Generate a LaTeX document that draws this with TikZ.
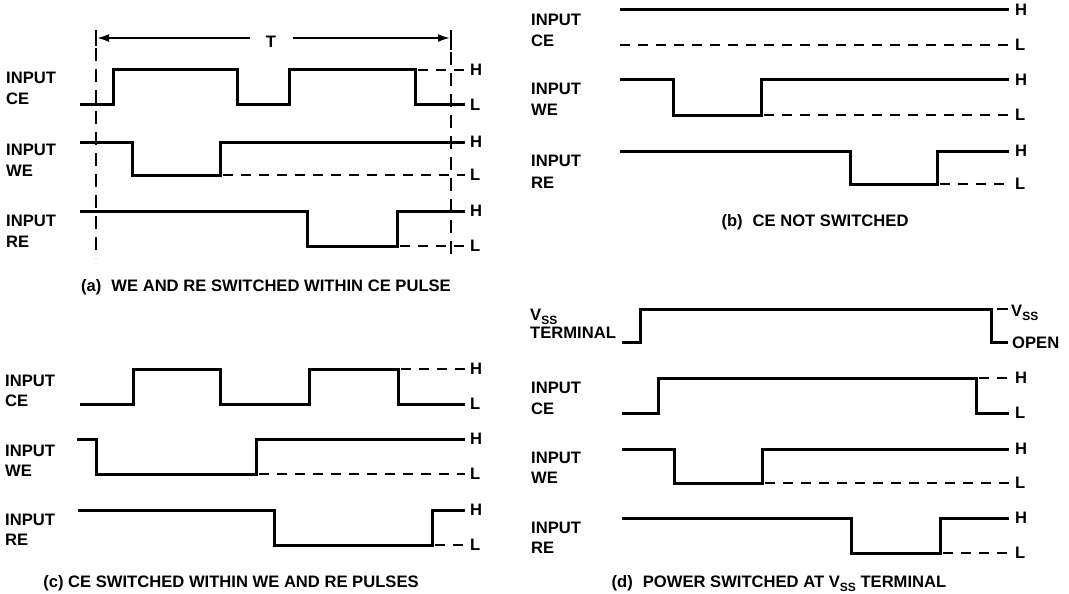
\documentclass[tikz,border=0pt]{standalone}
\usepackage{fontspec}
\setmainfont{Liberation Sans}
\usetikzlibrary{arrows.meta}
\newcommand\myfont{\bfseries\fontsize{16.6}{19}\selectfont}
\newcommand\mysub[1]{\raisebox{-4pt}{\fontsize{12}{12}\selectfont #1}}
\tikzset{
  sig/.style={line width=3pt, line join=miter, line cap=butt},
  lvl/.style={line width=2.2pt, dash pattern=on 10pt off 8pt},
  vdash/.style={line width=2.2pt, dash pattern=on 13pt off 8pt},
  bar/.style={line width=2.4pt},
  tarrow/.style={line width=2pt, -{Latex[length=12pt,width=8pt]}},
  txt/.style={font=\myfont, anchor=base west, inner sep=0pt},
  lab/.style={font=\myfont, anchor=west, inner sep=0pt},
  captext/.style={font=\myfont, anchor=base, inner sep=0pt},
}
\begin{document}
\begin{tikzpicture}[x=1pt,y=-1pt]
\useasboundingbox (0,0) rectangle (1069,594);
\fill[white] (0,0) rectangle (1069,594);

% ===================== panel (a) =====================
\draw[bar] (96,30) -- (96,46);
\draw[vdash] (96,48) -- (96,258);
\draw[bar] (451,30) -- (451,50);
\draw[vdash] (451,52) -- (451,260);
\node[font=\myfont, inner sep=0pt] (Ta) at (271,42) {T};
\coordinate (TaL) at (97,38);
\coordinate (TaR) at (450,38);
\draw[tarrow] (250,38) -- (TaL);
\draw[tarrow] (293,38) -- (TaR);

\draw[sig] (80,105) -- (113,105) -- (113,70) -- (237,70) -- (237,105) -- (289,105) -- (289,70) -- (415,70) -- (415,105) -- (465,105);
\draw[lvl] (418,70) -- (465,70);
\draw[sig] (80,142) -- (132,142) -- (132,175) -- (220,175) -- (220,142) -- (465,142);
\draw[lvl] (223,175) -- (465,175);
\draw[sig] (80,211) -- (307,211) -- (307,246) -- (397,246) -- (397,211) -- (465,211);
\draw[lvl] (400,246) -- (465,246);

\node[lab] (aH1) at (470,70) {H};
\node[lab] (aL1) at (470,105) {L};
\node[lab] (aH2) at (470,142) {H};
\node[lab] (aL2) at (470,175) {L};
\node[lab] (aH3) at (470,211) {H};
\node[lab] (aL3) at (470,246) {L};

\node[txt] (aI1) at (6,84) {INPUT};
\node[txt] (aC1) at (6,105) {CE};
\node[txt] (aI2) at (6,155) {INPUT};
\node[txt] (aC2) at (6,176) {WE};
\node[txt] (aI3) at (6,226) {INPUT};
\node[txt] (aC3) at (6,247) {RE};
\node[captext] (capa) at (266,291) {(a)\hspace{0.6em}WE AND RE SWITCHED WITHIN CE PULSE};

% ===================== panel (c) =====================
\draw[sig] (80,404) -- (133,404) -- (133,369) -- (220,369) -- (220,404) -- (309,404) -- (309,369) -- (398,369) -- (398,404) -- (465,404);
\draw[lvl] (401,369) -- (465,369);
\draw[sig] (77,439) -- (96,439) -- (96,474) -- (256,474) -- (256,439) -- (465,439);
\draw[lvl] (259,474) -- (465,474);
\draw[sig] (78,510) -- (274,510) -- (274,545) -- (432,545) -- (432,510) -- (465,510);
\draw[lvl] (435,545) -- (465,545);

\node[lab] (cH1) at (470,369) {H};
\node[lab] (cL1) at (470,404) {L};
\node[lab] (cH2) at (470,439) {H};
\node[lab] (cL2) at (470,474) {L};
\node[lab] (cH3) at (470,510) {H};
\node[lab] (cL3) at (470,545) {L};

\node[txt] (cI1) at (5,386) {INPUT};
\node[txt] (cC1) at (5,406) {CE};
\node[txt] (cI2) at (5,456) {INPUT};
\node[txt] (cC2) at (5,476) {WE};
\node[txt] (cI3) at (5,525) {INPUT};
\node[txt] (cC3) at (5,545) {RE};
\node[captext] (capc) at (231,587) {(c) CE SWITCHED WITHIN WE AND RE PULSES};

% ===================== panel (b) =====================
\draw[sig] (620,10) -- (1009,10);
\draw[lvl] (620,45) -- (1009,45);
\draw[sig] (620,80) -- (673,80) -- (673,115) -- (761,115) -- (761,80) -- (1009,80);
\draw[lvl] (764,115) -- (1009,115);
\draw[sig] (620,151) -- (850,151) -- (850,184) -- (937,184) -- (937,151) -- (1009,151);
\draw[lvl] (940,184) -- (1009,184);

\node[lab] (bH1) at (1015,10) {H};
\node[lab] (bL1) at (1015,45) {L};
\node[lab] (bH2) at (1015,80) {H};
\node[lab] (bL2) at (1015,115) {L};
\node[lab] (bH3) at (1015,151) {H};
\node[lab] (bL3) at (1015,184) {L};

\node[txt] (bI1) at (531,26) {INPUT};
\node[txt] (bC1) at (531,47) {CE};
\node[txt] (bI2) at (531,95) {INPUT};
\node[txt] (bC2) at (531,115) {WE};
\node[txt] (bI3) at (531,166) {INPUT};
\node[txt] (bC3) at (531,188) {RE};
\node[captext] (capb) at (815,226) {(b)\hspace{0.6em}CE NOT SWITCHED};

% ===================== panel (d) =====================
\draw[sig] (622,342) -- (640,342) -- (640,309) -- (991,309) -- (991,342) -- (1008,342);
\draw[line width=1.5pt] (997,309) -- (1008,309);
\draw[sig] (622,413) -- (658,413) -- (658,378) -- (976,378) -- (976,413) -- (1009,413);
\draw[lvl] (979,378) -- (1009,378);
\draw[sig] (622,449) -- (674,449) -- (674,483) -- (762,483) -- (762,449) -- (1009,449);
\draw[lvl] (765,483) -- (1009,483);
\draw[sig] (622,518) -- (851,518) -- (851,553) -- (940,553) -- (940,518) -- (1009,518);
\draw[lvl] (943,553) -- (1009,553);

\node[txt] (dV) at (1011,316) {V\mysub{SS}};
\node[lab] (dO) at (1012,343) {OPEN};
\node[lab] (dH1) at (1015,378) {H};
\node[lab] (dL1) at (1015,413) {L};
\node[lab] (dH2) at (1015,449) {H};
\node[lab] (dL2) at (1015,483) {L};
\node[lab] (dH3) at (1015,518) {H};
\node[lab] (dL3) at (1015,553) {L};

\node[txt] (dV0) at (530,320) {V\mysub{SS}};
\node[txt] (dT0) at (530,338) {TERMINAL};
\node[txt] (dI1) at (531,393) {INPUT};
\node[txt] (dC1) at (531,414) {CE};
\node[txt] (dI2) at (531,463) {INPUT};
\node[txt] (dC2) at (531,483) {WE};
\node[txt] (dI3) at (531,533) {INPUT};
\node[txt] (dC3) at (531,553) {RE};
\node[captext] (capd) at (779,587) {(d)\hspace{0.6em}POWER SWITCHED AT V\mysub{SS} TERMINAL};
\end{tikzpicture}
\end{document}
